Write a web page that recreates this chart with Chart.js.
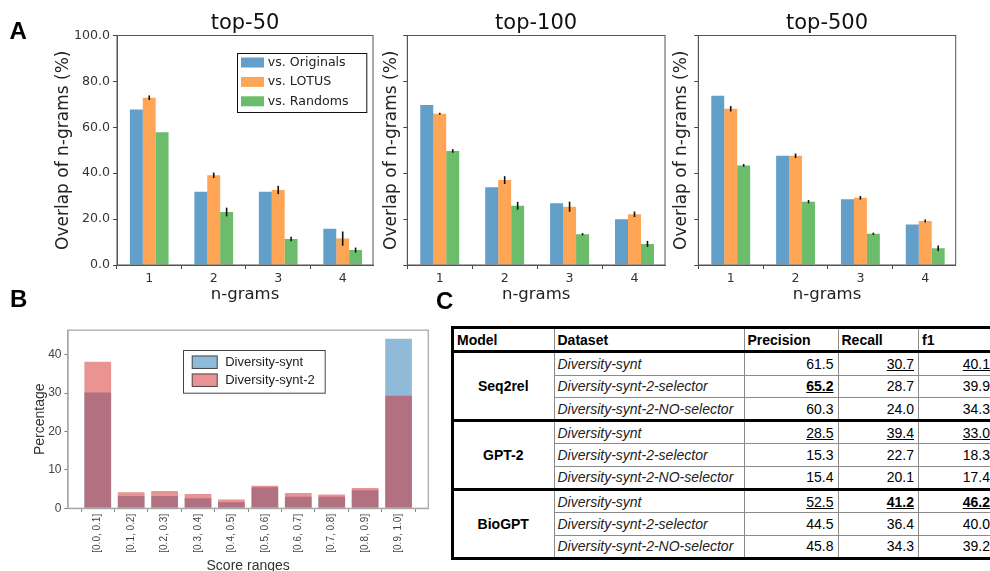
<!DOCTYPE html>
<html>
<head>
<meta charset="utf-8">
<script src="https://cdn.jsdelivr.net/npm/chart.js@4.4.0/dist/chart.umd.min.js"></script>
<style>
  html, body { margin: 0; padding: 0; background: #fff; }
  #fig { position: relative; width: 990px; height: 571px; overflow: hidden; background: #fff; }
  #fig canvas { position: absolute; }
  .tag { position: absolute; font: bold 24px "Liberation Sans", Arial, sans-serif; line-height: 1; color: #000; }
  #tbl { position: absolute; left: 451px; top: 326px; width: 543px; border-collapse: collapse; table-layout: fixed;
         border: 3px solid #000; font: 14px "Liberation Sans", Arial, sans-serif; color: #000; }
  #tbl th, #tbl td { border: 1px solid #8a8a8a; height: 21.3px; padding: 0 4px 0 3px; white-space: nowrap;
                     overflow: hidden; vertical-align: middle; line-height: 16px; }
  #tbl th { font-weight: bold; text-align: left; border-bottom: 3px solid #000; }
  #tbl tr.grp td { border-top: 3px solid #000; }
  #tbl td.model { text-align: center; font-weight: bold; }
  #tbl td.ds { font-style: italic; color: #222; }
  #tbl td.num { text-align: right; }
  #tbl span.u { text-decoration: underline; }
  #tbl span.b { font-weight: bold; }
</style>
</head>
<body>
<div id="fig">
  <canvas id="top50" width="385" height="310" style="left:0px;top:0px"></canvas>
  <canvas id="top100" width="300" height="310" style="left:375px;top:0px"></canvas>
  <canvas id="top500" width="310" height="310" style="left:665px;top:0px"></canvas>
  <canvas id="scores" width="445" height="260" style="left:0px;top:320px"></canvas>
  <table id="tbl"></table>
  <div class="tag" style="left:9.5px;top:18.5px">A</div>
  <div class="tag" style="left:10px;top:286.5px">B</div>
  <div class="tag" style="left:436px;top:288.5px">C</div>
</div>
<script>
// ---------- Panel A: n-gram overlap ----------
const ngrams = [1, 2, 3, 4];
const overlapTicks = [0, 20, 40, 60, 80, 100];
const seriesNames = ['vs. Originals', 'vs. LOTUS', 'vs. Randoms'];

const top50Originals = [67.8, 31.9, 31.9, 15.8];
const top50Lotus     = [72.9, 39.1, 32.7, 11.5];
const top50LotusErr  = [1.0, 1.2, 1.8, 3.1];
const top50Randoms   = [57.8, 23.1, 11.3, 6.5];
const top50RandomsErr = [0.0, 1.9, 1.0, 1.1];

const top100Originals = [69.7, 33.9, 26.9, 19.9];
const top100Lotus     = [65.9, 37.0, 25.4, 22.1];
const top100LotusErr  = [0.4, 1.7, 2.2, 1.2];
const top100Randoms   = [49.7, 25.8, 13.4, 9.2];
const top100RandomsErr = [0.8, 1.7, 0.5, 1.3];

const top500Originals = [73.8, 47.6, 28.6, 17.7];
const top500Lotus     = [68.1, 47.6, 29.3, 19.2];
const top500LotusErr  = [1.2, 1.0, 0.8, 0.65];
const top500Randoms   = [43.4, 27.6, 13.6, 7.3];
const top500RandomsErr = [0.6, 0.7, 0.5, 1.2];

// ---------- Panel B: score distribution ----------
const scoreRanges = ['[0.0, 0.1]', '[0.1, 0.2]', '[0.2, 0.3]', '[0.3, 0.4]', '[0.4, 0.5]',
                     '[0.5, 0.6]', '[0.6, 0.7]', '[0.7, 0.8]', '[0.8, 0.9]', '[0.9, 1.0]'];
const diversitySynt  = [30.2, 3.2, 3.2, 2.6, 1.6, 5.5, 3.0, 3.0, 4.7, 44.2];
const diversitySynt2 = [38.2, 4.2, 4.5, 3.7, 2.3, 5.9, 4.0, 3.6, 5.3, 29.3];
const percentTicks = [0, 10, 20, 30, 40];

// ---------- Panel C: relation extraction results ----------
const tableHeaders = ['Model', 'Dataset', 'Precision', 'Recall', 'f1'];
const models = ['Seq2rel', 'GPT-2', 'BioGPT'];
const datasetNames = ['Diversity-synt', 'Diversity-synt-2-selector', 'Diversity-synt-2-NO-selector'];
const precision = [61.5, 65.2, 60.3, 28.5, 15.3, 15.4, 52.5, 44.5, 45.8];
const recall    = [30.7, 28.7, 24.0, 39.4, 22.7, 20.1, 41.2, 36.4, 34.3];
const f1        = [40.1, 39.9, 34.3, 33.0, 18.3, 17.4, 46.2, 40.0, 39.2];

// ---------- drawing helpers ----------
const DEJAVU = '"DejaVu Sans", sans-serif';
const LIB = '"Liberation Sans", Arial, sans-serif';
Chart.defaults.font.family = DEJAVU;

const barColors = ['rgba(31,119,180,0.7)', 'rgba(255,127,14,0.7)', 'rgba(44,160,44,0.7)'];

// vertical error bars centred on each bar
const errorBars = {
  id: 'errorBars',
  afterDatasetsDraw(chart) {
    const { ctx } = chart;
    const y = chart.scales.y;
    chart.data.datasets.forEach((ds, i) => {
      if (!ds.errors) return;
      const meta = chart.getDatasetMeta(i);
      meta.data.forEach((bar, j) => {
        const e = ds.errors[j];
        if (!e) return;
        const v = ds.data[j].y;
        ctx.save();
        ctx.strokeStyle = '#111';
        ctx.lineWidth = 1.6;
        ctx.beginPath();
        ctx.moveTo(bar.x, y.getPixelForValue(v + e));
        ctx.lineTo(bar.x, y.getPixelForValue(v - e));
        ctx.stroke();
        ctx.restore();
      });
    });
  }
};

// box around the plotting area
const frame = {
  id: 'frame',
  afterDraw(chart, args, o) {
    const { ctx, chartArea: a } = chart;
    ctx.save();
    ctx.strokeStyle = o.color;
    ctx.lineWidth = o.width;
    ctx.strokeRect(a.left, a.top, a.right - a.left, a.bottom - a.top);
    ctx.restore();
  }
};

// legend box placed inside the plotting area
const insetLegend = {
  id: 'insetLegend',
  afterDraw(chart, args, o) {
    if (!o.show) return;
    const { ctx, chartArea: a } = chart;
    const x0 = Math.round(a.left + o.left) + 0.5, y0 = Math.round(a.top + o.top) + 0.5;
    ctx.save();
    ctx.fillStyle = '#fff';
    ctx.fillRect(x0, y0, o.width, o.height);
    ctx.strokeStyle = o.borderColor;
    ctx.lineWidth = 1;
    ctx.strokeRect(x0, y0, o.width, o.height);
    ctx.font = o.fontSize + 'px ' + o.fontFamily;
    ctx.textBaseline = 'middle';
    ctx.textAlign = 'left';
    o.order.forEach((di, k) => {
      const ds = chart.data.datasets[di];
      const cy = y0 + o.firstRow + k * o.rowStep;
      ctx.fillStyle = ds.backgroundColor;
      ctx.fillRect(x0 + o.patchX, cy - o.patchH / 2, o.patchW, o.patchH);
      if (o.patchEdge) {
        ctx.strokeStyle = o.patchEdge;
        ctx.strokeRect(x0 + o.patchX, cy - o.patchH / 2, o.patchW, o.patchH);
      }
      ctx.fillStyle = o.textColor;
      ctx.fillText(ds.label, x0 + o.textX, cy);
    });
    ctx.restore();
  }
};

function ngramChart(id, title, orig, lotus, lotusErr, rnd, rndErr, g) {
  const pts = arr => ngrams.map((n, i) => ({ x: n, y: arr[i] }));
  return new Chart(document.getElementById(id), {
    type: 'bar',
    data: {
      datasets: [
        { label: seriesNames[0], data: pts(orig), backgroundColor: barColors[0] },
        { label: seriesNames[1], data: pts(lotus), backgroundColor: barColors[1], errors: lotusErr },
        { label: seriesNames[2], data: pts(rnd), backgroundColor: barColors[2], errors: rndErr }
      ]
    },
    options: {
      responsive: false, animation: false, devicePixelRatio: 1,
      datasets: { bar: { categoryPercentage: 0.6, barPercentage: 1.0 } },
      layout: { padding: { left: 0, right: g.padRight, top: 0, bottom: 0 } },
      plugins: {
        legend: { display: false },
        tooltip: { enabled: false },
        title: {
          display: true, text: title, fullSize: false, color: '#111',
          font: { family: DEJAVU, size: 21, weight: 'normal', lineHeight: 24 / 21 },
          padding: { top: 11.5, bottom: 0 }
        },
        frame: { color: '#555', width: 1 },
        insetLegend: {
          show: !!g.legend, left: 119.7, top: 17.8, width: 129.3, height: 59,
          borderColor: '#111', fontSize: 12.6, fontFamily: DEJAVU, textColor: '#222',
          firstRow: 9, rowStep: 19.4, patchX: 3.5, patchW: 23, patchH: 10, textX: 30.3,
          patchEdge: null, order: [0, 1, 2]
        }
      },
      scales: {
        x: {
          type: 'linear', min: 0.5, max: 4.47, offset: false,
          afterBuildTicks: s => { s.ticks = ngrams.map(v => ({ value: v })); },
          afterFit: s => { s.height = 45; },
          ticks: { font: { size: 12.6 }, color: '#333', padding: 2, callback: v => String(v) },
          grid: { drawOnChartArea: false, tickLength: 4, color: '#444' },
          border: { color: '#555', width: 1 },
          title: { display: true, text: 'n-grams', color: '#222',
                   font: { family: DEJAVU, size: 16.5 }, padding: { top: 0, bottom: 5 } }
        },
        y: {
          min: 0, max: 100,
          afterBuildTicks: s => { s.ticks = overlapTicks.map(v => ({ value: v })); },
          afterFit: s => { s.width = g.yWidth; },
          ticks: { display: g.yLabels, font: { size: 12.6 }, color: '#333', padding: 3,
                   callback: v => v.toFixed(1) },
          grid: { drawOnChartArea: false, tickLength: 4, color: '#444' },
          border: { color: '#555', width: 1 },
          title: { display: true, text: 'Overlap of n-grams (%)', color: '#222',
                   font: { family: DEJAVU, size: 17 }, padding: { top: g.yTitlePad, bottom: 0 } }
        }
      }
    },
    plugins: [errorBars, frame, insetLegend]
  });
}

ngramChart('top50', 'top-50', top50Originals, top50Lotus, top50LotusErr, top50Randoms, top50RandomsErr,
           { padRight: 12, yWidth: 117, yLabels: true, yTitlePad: 53.5, legend: true });
ngramChart('top100', 'top-100', top100Originals, top100Lotus, top100LotusErr, top100Randoms, top100RandomsErr,
           { padRight: 10, yWidth: 32.3, yLabels: false, yTitlePad: 6.5, legend: false });
ngramChart('top500', 'top-500', top500Originals, top500Lotus, top500LotusErr, top500Randoms, top500RandomsErr,
           { padRight: 19.3, yWidth: 33.3, yLabels: false, yTitlePad: 6.5, legend: false });

// ---------- Panel B chart (overlapping histograms) ----------
new Chart(document.getElementById('scores'), {
  type: 'bar',
  data: {
    datasets: [
      { label: 'Diversity-synt', data: scoreRanges.map((r, i) => ({ x: i, y: diversitySynt[i] })),
        backgroundColor: 'rgba(31,119,180,0.5)', order: 1, stack: 'all' },
      { label: 'Diversity-synt-2', data: scoreRanges.map((r, i) => ({ x: i, y: diversitySynt2[i] })),
        backgroundColor: 'rgba(214,39,40,0.5)', order: 0, stack: 'all' }
    ]
  },
  options: {
    responsive: false, animation: false, devicePixelRatio: 1,
    datasets: { bar: { categoryPercentage: 0.8, barPercentage: 1.0 } },
    layout: { padding: { left: 0, right: 16.7, top: 7.3, bottom: 0 } },
    plugins: {
      legend: { display: false },
      tooltip: { enabled: false },
      frame: { color: '#aaa', width: 1.3 },
      insetLegend: {
        show: true, left: 115.3, top: 20, width: 141.7, height: 42.7,
        borderColor: '#444', fontSize: 13, fontFamily: LIB, textColor: '#222',
        firstRow: 11.7, rowStep: 18, patchX: 8.7, patchW: 25, patchH: 12.5, textX: 41.7,
        patchEdge: '#444', order: [0, 1]
      }
    },
    scales: {
      x: {
        type: 'linear', min: -0.89, max: 9.89, offset: false, stacked: true,
        afterBuildTicks: s => { s.ticks = scoreRanges.map((r, i) => ({ value: i })); },
        afterFit: s => { s.height = 71.7; },
        ticks: { font: { family: LIB, size: 10 }, color: '#444', padding: 2, autoSkip: false,
                 minRotation: 90, maxRotation: 90, callback: v => scoreRanges[v] },
        grid: { drawOnChartArea: false, tickLength: 3.5, color: '#777' },
        border: { color: '#aaa', width: 1.3 },
        title: { display: true, text: 'Score ranges', color: '#333',
                 font: { family: LIB, size: 14 }, padding: { top: 0, bottom: 5.6 } }
      },
      y: {
        min: 0, max: 46.4, stacked: false,
        afterBuildTicks: s => { s.ticks = percentTicks.map(v => ({ value: v })); },
        afterFit: s => { s.width = 68; },
        ticks: { font: { family: LIB, size: 12 }, color: '#444', padding: 3 },
        grid: { drawOnChartArea: false, tickLength: 3.5, color: '#777' },
        border: { color: '#aaa', width: 1.3 },
        title: { display: true, text: 'Percentage', color: '#333',
                 font: { family: LIB, size: 14 }, padding: { top: 31.6, bottom: 0 } }
      }
    }
  },
  plugins: [frame, insetLegend]
});

// ---------- Panel C table ----------
(function buildTable() {
  const colWidths = [101.5, 190, 94, 80.5, 77];
  const cols = [precision, recall, f1];
  const n = datasetNames.length;
  let html = '<colgroup>' + colWidths.map(w => '<col style="width:' + w + 'px">').join('') + '</colgroup>';
  html += '<tr>' + tableHeaders.map(h => '<th>' + h + '</th>').join('') + '</tr>';
  models.forEach((m, g) => {
    datasetNames.forEach((d, k) => {
      const r = g * n + k;
      html += '<tr' + (k === 0 ? ' class="grp"' : '') + '>';
      if (k === 0) html += '<td rowspan="' + n + '" class="model">' + m + '</td>';
      html += '<td class="ds">' + d + '</td>';
      cols.forEach(col => {
        const v = col[r];
        const group = col.slice(g * n, g * n + n);
        const bestInGroup = v === Math.max(...group);
        const bestOverall = v === Math.max(...col);
        let txt = v.toFixed(1);
        if (bestInGroup) txt = '<span class="u">' + txt + '</span>';
        if (bestOverall) txt = '<span class="b">' + txt + '</span>';
        html += '<td class="num">' + txt + '</td>';
      });
      html += '</tr>';
    });
  });
  document.getElementById('tbl').innerHTML = html;
})();
</script>
</body>
</html>
